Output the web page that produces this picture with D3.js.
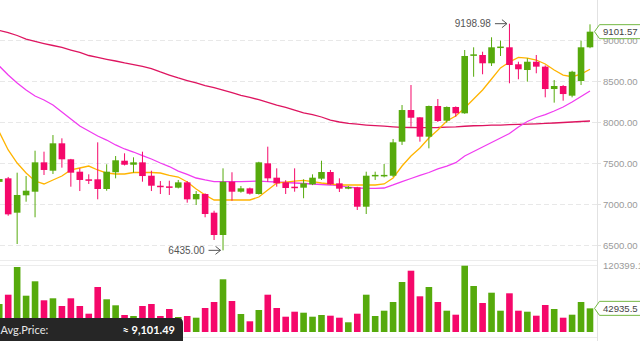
<!DOCTYPE html>
<html><head><meta charset="utf-8">
<script src="https://cdn.jsdelivr.net/npm/d3@7"></script>
<style>html,body{margin:0;padding:0;background:#fff;overflow:hidden}svg{display:block}</style>
</head><body><svg id="c" width="640" height="341"></svg>
<script>
const idx = d3.range(67);
const openP  = [7270,7313,6894,7106,7150,7508,7406,7740,7545,7394,7301,7301,7183,7387,7528,7479,7508,7345,7223,7215,7199,7264,7057,7122,6894,6622,7272,7150,7191,7122,7496,7321,7264,7211,7199,7240,7309,7390,7252,7187,7204,6967,7345,7345,7345,7760,8146,8057,7821,8195,8016,8183,8106,8815,8817,8716,8910,8911,8704,8634,8735,8675,8402,8439,8321,8500,8911];
const closeP = [7305,6874,7110,7162,7508,7415,7740,7545,7382,7293,7284,7183,7394,7533,7479,7508,7341,7223,7211,7207,7264,7057,7122,6878,6622,7272,7150,7191,7126,7508,7313,7252,7195,7199,7252,7321,7390,7240,7187,7207,6967,7345,7355,7355,7752,8146,8052,7821,8195,8012,8183,8106,8805,8825,8716,8911,8920,8695,8643,8735,8675,8402,8439,8341,8613,8911,9101.57];
const highP  = [7330,7330,7382,7341,7650,7638,7841,7801,7550,7435,7362,7752,7484,7585,7618,7569,7638,7406,7280,7284,7293,7280,7158,7130,6918,7435,7387,7220,7200,7515,7699,7435,7290,7435,7301,7362,7528,7415,7313,7220,7210,7394,7394,7488,7793,8207,8451,8060,8200,8280,8190,8190,8878,8911,8857,9033,8992,9198.98,8735,8777,8817,8690,8512,8450,8625,8992,9191];
const lowP   = [7250,6857,6512,7028,6838,7354,7366,7443,7211,7158,7244,7057,7162,7313,7470,7382,7272,7158,7122,7110,7190,7016,6988,6838,6561,6435,7040,7138,7115,7115,7272,7211,7122,7150,7070,7230,7293,7235,7146,7180,6927,6878,7293,7325,7330,7720,7943,7760,7679,8000,7990,8065,8100,8552,8582,8683,8805,8472,8521,8492,8594,8301,8236,8260,8301,8451,8900];
const volume = [50850,67737,118040,65920,92070,57567,61199,47216,61199,47216,33233,81720,59383,48487,30872,29056,47216,50848,29056,41768,27240,29056,25969,43584,54480,95703,56296,32688,19431,39952,67737,43584,27785,36865,35049,27785,30872,29601,25969,17615,33233,67737,29056,38681,54480,90800,111321,64831,81720,54480,38681,31417,120399.13,83536,52664,71369,38681,70279,38681,36865,29601,49032,41768,25969,31417,54480,42935.5];
const maShort = [7878,7659,7500,7378,7280,7244,7293,7341,7415,7439,7463,7415,7378,7366,7366,7384,7384,7384,7378,7348,7329,7268,7183,7110,7049,7049,7049,7049,7049,7085,7171,7256,7268,7280,7287,7274,7256,7244,7232,7232,7232,7232,7232,7244,7317,7463,7585,7683,7805,7902,8012,8073,8171,8280,8390,8524,8659,8732,8789,8780,8756,8707,8634,8573,8552,8585,8643];
const maMid = [8683,8573,8476,8390,8317,8268,8207,8122,8037,7951,7890,7829,7780,7720,7671,7634,7591,7549,7500,7457,7402,7360,7317,7293,7274,7272,7272,7274,7277,7280,7274,7268,7262,7256,7250,7244,7238,7232,7220,7207,7195,7191,7191,7195,7232,7274,7311,7348,7384,7427,7463,7504,7585,7640,7695,7750,7805,7860,7939,8006,8055,8091,8134,8183,8244,8311,8378];
const maLong = [9116,9091,9055,9012,8982,8957,8933,8909,8878,8848,8811,8787,8765,8744,8720,8701,8677,8652,8610,8573,8537,8506,8476,8445,8418,8390,8357,8326,8299,8272,8240,8207,8177,8146,8110,8091,8061,8024,8000,7984,7973,7963,7955,7949,7941,7935,7933,7932,7932,7933,7937,7941,7948,7954,7957,7961,7963,7967,7971,7974,7978,7984,7988,7994,8000,8006,8012];
const priceTicks = [6500,7000,7500,8000,8500,9000];
const avgLabel = "Avg.Price:";
const avgValue = "≈ 9,101.49";

const svg = d3.select("#c");
const W = 640, H = 341, axisX = 597;
const GREEN = "#56aa0c", PINK = "#f5086a";
const FONT = "Liberation Sans, Arial, sans-serif";
const FS = 9.6;
const x = d3.scaleLinear().domain([0, 66]).range([-0.75, 590]);
const y = d3.scaleLinear().domain([6500, 9000]).range([245, 40]);
const yv = d3.scaleLinear().domain([0, 120399.13]).range([332, 265.7]);
const bw = 6.6;
const col = i => closeP[i] >= openP[i] ? GREEN : PINK;

// gridlines
svg.append("g").selectAll("line").data(priceTicks).join("line")
  .attr("x1", 0).attr("x2", axisX).attr("y1", d => Math.round(y(d)) + 0.5).attr("y2", d => Math.round(y(d)) + 0.5)
  .attr("stroke", "#e8e8e8").attr("stroke-dasharray", "5,3");

// panel separators
[260.5, 265.5, 337.5].forEach(v => svg.append("line").attr("x1", 0).attr("x2", axisX).attr("y1", v).attr("y2", v).attr("stroke", "#ececec"));
svg.append("line").attr("x1", axisX + 0.5).attr("x2", axisX + 0.5).attr("y1", 0).attr("y2", H).attr("stroke", "#e2e2e2");

// axis
const ax = svg.append("g").attr("transform", `translate(${axisX},0)`)
  .call(d3.axisRight(y).tickValues(priceTicks).tickFormat(d3.format(".2f")).tickSize(4).tickPadding(2));
ax.select(".domain").remove();
ax.selectAll("line").attr("stroke", "#e2e2e2");
ax.selectAll("text").attr("fill", "#9a9a9a").attr("font-size", FS).attr("font-family", FONT);

// volume axis label
svg.append("text").attr("x", 603).attr("y", yv(120399.13)).attr("dy", "0.35em").attr("fill", "#9a9a9a")
  .attr("font-size", FS).attr("font-family", FONT).text(d3.format(".2f")(120399.13));

// volume bars
svg.append("g").selectAll("rect").data(idx).join("rect")
  .attr("x", i => x(i) - bw / 2).attr("width", bw)
  .attr("y", i => yv(volume[i])).attr("height", i => yv(0) - yv(volume[i]))
  .attr("fill", col);

// MA lines
const line = arr => d3.line().x(i => x(i)).y(i => y(arr[i]))(idx);
svg.append("path").attr("d", line(maLong)).attr("fill", "none").attr("stroke", "#de1560").attr("stroke-width", 1.3);
svg.append("path").attr("d", line(maMid)).attr("fill", "none").attr("stroke", "#f03cf0").attr("stroke-width", 1.3);
svg.append("path").attr("d", line(maShort)).attr("fill", "none").attr("stroke", "#ffb400").attr("stroke-width", 1.3);

// candles
const cg = svg.append("g");
cg.selectAll("line").data(idx).join("line")
  .attr("x1", i => x(i)).attr("x2", i => x(i))
  .attr("y1", i => y(highP[i])).attr("y2", i => y(lowP[i]))
  .attr("stroke", col).attr("stroke-width", 1);
cg.selectAll("rect").data(idx).join("rect")
  .attr("x", i => x(i) - bw / 2).attr("width", bw)
  .attr("y", i => y(Math.max(openP[i], closeP[i])))
  .attr("height", i => Math.max(1.5, Math.abs(y(openP[i]) - y(closeP[i]))))
  .attr("fill", col);

// annotations
function annot(i, val) {
  const tx = x(i) - 2.5, ty = y(val);
  const g = svg.append("g");
  g.append("path").attr("d", `M${tx - 12},${ty} H${tx} M${tx - 5},${ty - 4} L${tx},${ty} L${tx - 5},${ty + 4}`)
    .attr("fill", "none").attr("stroke", "#555").attr("stroke-width", 1);
  g.append("text").attr("x", tx - 16).attr("y", ty).attr("dy", "0.35em").attr("text-anchor", "end")
    .attr("fill", "#555").attr("font-size", 10).attr("font-family", FONT)
    .text(d3.format(".2f")(val));
}
annot(57, 9198.98);
annot(25, 6435);

// last value labels
function tag(yc, txt) {
  const g = svg.append("g");
  g.append("path").attr("d", `M594.5,${yc} L599.5,${yc - 7} H645 V${yc + 7} H599.5 Z`)
    .attr("fill", "#fff").attr("stroke", "#74b843").attr("stroke-width", 1);
  g.append("text").attr("x", 603).attr("y", yc).attr("dy", "0.35em").attr("fill", "#444")
    .attr("font-size", FS).attr("font-family", FONT).text(txt);
}
tag(y(closeP[66]), d3.format(".2f")(closeP[66]));
tag(yv(volume[66]), String(volume[66]));

// avg price box
const bx = svg.append("g");
bx.append("path").attr("d", "M0,318 H178 Q183,318 183,323 V341 H0 Z").attr("fill", "#262626");
bx.append("text").attr("x", 0.5).attr("y", 334).attr("fill", "#e8e8e8").attr("font-size", 11)
  .attr("font-family", "Lato, 'Open Sans', sans-serif").text(avgLabel);
bx.append("text").attr("x", 175).attr("y", 334).attr("text-anchor", "end").attr("fill", "#fff").attr("font-weight", "bold")
  .attr("font-size", 11).attr("font-family", "Lato, 'Open Sans', sans-serif").text(avgValue);
</script></body></html>
